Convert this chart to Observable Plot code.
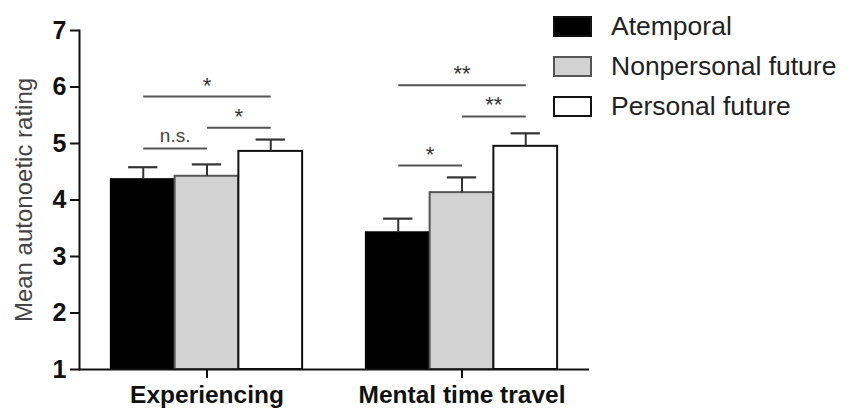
<!DOCTYPE html>
<html>
<head>
<meta charset="utf-8">
<script src="https://cdn.jsdelivr.net/npm/d3@7"></script>
<script src="https://cdn.jsdelivr.net/npm/@observablehq/plot@0.6"></script>
<style>
  html, body { margin: 0; padding: 0; background: #fff; }
  #wrap { position: relative; width: 851px; height: 412px; font-family: "Liberation Sans", Arial, sans-serif; }
  #legend { position: absolute; left: 553px; top: 6px; }
  .row { display: flex; align-items: center; height: 40px; }
  .sw { width: 35px; height: 17px; border: 2px solid #222; margin-right: 19px; }
  .lab { font-size: 26.5px; color: #222; white-space: nowrap; }
</style>
</head>
<body>
<div id="wrap"><div id="legend"></div></div>
<script>
// ---- data ----
const groups = ["Experiencing", "Mental time travel"];
const conditions = ["Atemporal", "Nonpersonal future", "Personal future"];
const meansExperiencing = [4.36, 4.42, 4.86];
const errExperiencing = [0.22, 0.21, 0.21];
const meansMental = [3.42, 4.13, 4.95];
const errMental = [0.25, 0.27, 0.23];
const yTicks = [1, 2, 3, 4, 5, 6, 7];

// significance brackets
const bracketGroup = ["Experiencing", "Experiencing", "Experiencing", "Mental time travel", "Mental time travel", "Mental time travel"];
const bracketFrom = ["Atemporal", "Nonpersonal future", "Atemporal", "Atemporal", "Nonpersonal future", "Atemporal"];
const bracketTo = ["Personal future", "Personal future", "Nonpersonal future", "Personal future", "Personal future", "Nonpersonal future"];
const bracketY = [5.83, 5.28, 4.91, 6.03, 5.48, 4.61];
const bracketLabel = ["*", "*", "n.s.", "**", "**", "*"];

// ---- build tables ----
const seriesMeans = {"Experiencing": meansExperiencing, "Mental time travel": meansMental};
const seriesErr = {"Experiencing": errExperiencing, "Mental time travel": errMental};
const bars = groups.flatMap(g => conditions.map((c, i) => ({
  group: g, cond: c, idx: i, mean: seriesMeans[g][i], upper: seriesMeans[g][i] + seriesErr[g][i]
})));
const brackets = bracketY.map((y, i) => ({
  group: bracketGroup[i],
  a: conditions.indexOf(bracketFrom[i]),
  b: conditions.indexOf(bracketTo[i]),
  y, label: bracketLabel[i]
}));
const starBrackets = brackets.filter(d => d.label !== "n.s.");
const nsBrackets = brackets.filter(d => d.label === "n.s.");

const fills = ["#000000", "#d2d2d2", "#ffffff"];
const strokes = ["#000000", "#555555", "#111111"];
const capHalf = 0.23;
const font = "Liberation Sans, Arial, sans-serif";

const chart = Plot.plot({
  width: 851,
  height: 412,
  marginLeft: 78,
  marginRight: 262,
  marginTop: 30,
  marginBottom: 43,
  style: {fontFamily: font, background: "transparent", overflow: "visible"},
  fx: {domain: groups, padding: 0, axis: null, label: null},
  x: {domain: [-1, 3], axis: null},
  y: {domain: [1, 7], axis: null},
  color: {domain: conditions, range: fills},
  marks: [
    Plot.rect(bars, {
      fx: "group", x1: d => d.idx - 0.5, x2: d => d.idx + 0.5, y1: 1, y2: "mean",
      fill: "cond", stroke: d => strokes[d.idx], strokeWidth: 2
    }),
    Plot.ruleX(bars, {fx: "group", x: "idx", y1: "mean", y2: "upper", stroke: "#333", strokeWidth: 2}),
    Plot.ruleY(bars, {fx: "group", x1: d => d.idx - capHalf, x2: d => d.idx + capHalf, y: "upper", stroke: "#333", strokeWidth: 2.2}),
    Plot.link(brackets, {fx: "group", x1: "a", x2: "b", y1: "y", y2: "y", stroke: "#555", strokeWidth: 2}),
    Plot.text(starBrackets, {
      fx: "group", x: d => (d.a + d.b) / 2, y: "y", text: "label",
      lineAnchor: "bottom", dy: -4, fontSize: 22, fill: "#333"
    }),
    Plot.text(nsBrackets, {
      fx: "group", x: d => (d.a + d.b) / 2, y: "y", text: "label",
      lineAnchor: "bottom", dy: -7, fontSize: 19, fill: "#444"
    }),
    Plot.ruleY([1], {stroke: "#111", strokeWidth: 2}),
    Plot.frame({anchor: "left", facetAnchor: "left", stroke: "#111", strokeWidth: 2}),
    Plot.axisY({
      ticks: yTicks, tickSize: 9, tickPadding: 4, tickFormat: d => String(d),
      fontSize: 25, fontWeight: "bold", color: "#111", strokeWidth: 2,
      label: "Mean autonoetic rating", labelAnchor: "center", labelArrow: "none", labelOffset: 65
    }),
    Plot.axisFx({
      anchor: "bottom", tickSize: 9, tickPadding: 7, fontSize: 24.5, fontWeight: "bold",
      color: "#111", strokeWidth: 2, label: null
    })
  ]
});

// style the y-axis title (non-bold, grey) separately from tick labels
chart.querySelectorAll("[aria-label='y-axis label'] text, [aria-label='y-axis label']").forEach(el => {
  el.setAttribute("font-weight", "normal");
  el.setAttribute("font-size", "24");
  el.setAttribute("fill", "#444");
  el.style.fontWeight = "normal";
});

const wrap = document.getElementById("wrap");
wrap.insertBefore(chart, wrap.firstChild);

// legend
const legend = document.getElementById("legend");
conditions.forEach((c, i) => {
  const row = document.createElement("div");
  row.className = "row";
  const sw = document.createElement("div");
  sw.className = "sw";
  sw.style.background = fills[i];
  sw.style.borderColor = i === 1 ? "#555" : "#111";
  const lab = document.createElement("div");
  lab.className = "lab";
  lab.textContent = c;
  row.appendChild(sw);
  row.appendChild(lab);
  legend.appendChild(row);
});
</script>
</body>
</html>
